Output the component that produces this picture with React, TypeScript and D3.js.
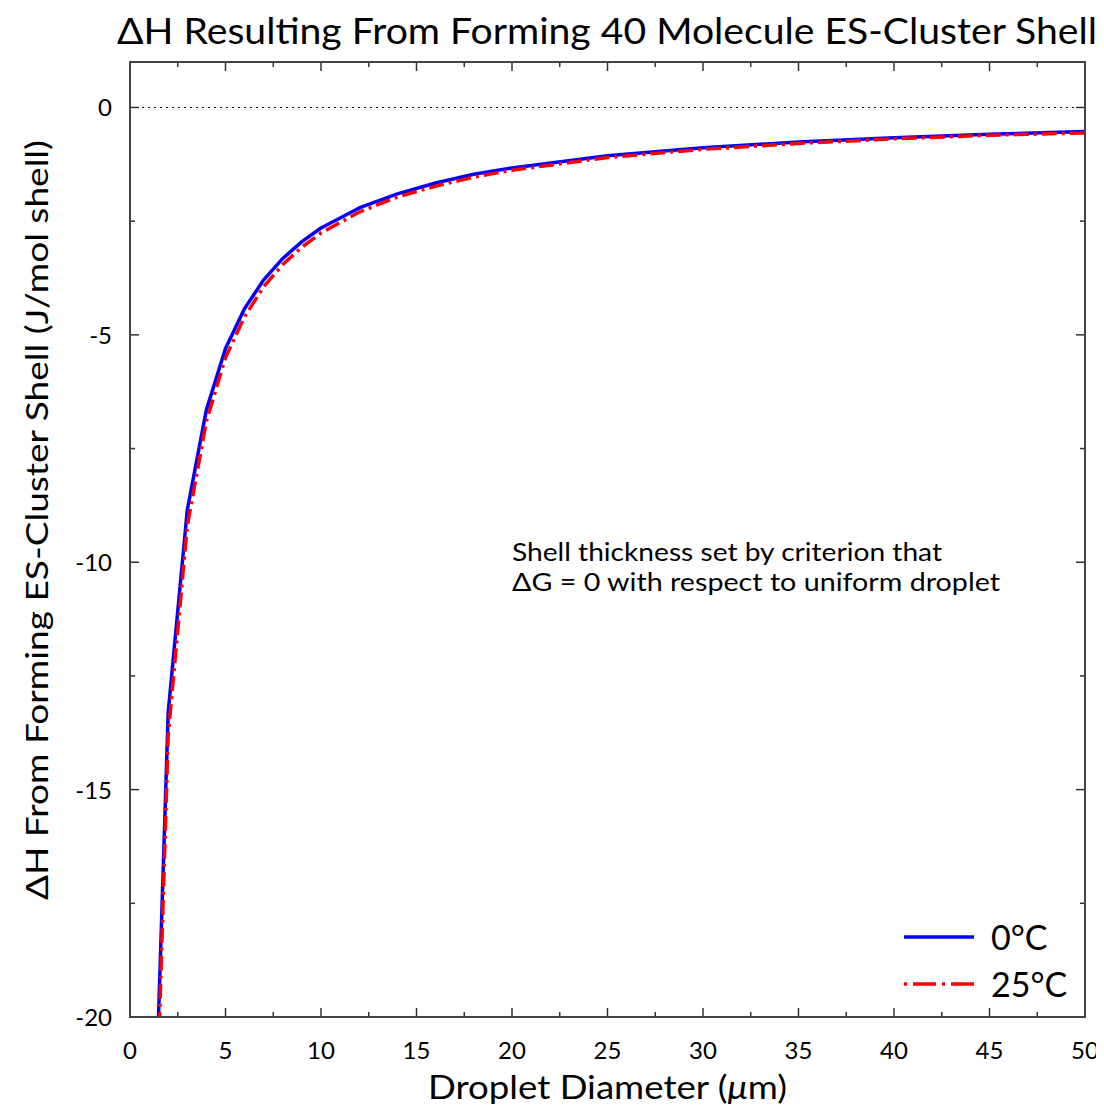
import { useEffect, useRef } from "react";
import * as d3 from "d3";

// droplet diameters (um) where the curves are sampled
const diameters = [1, 2, 3, 4, 5, 6, 7, 8, 9, 10, 12, 14, 16, 18, 20, 25, 30, 35, 40, 45, 50];
// dH at 0 C
const dH0 = [-26.5, -13.3, -8.85, -6.65, -5.3, -4.42, -3.79, -3.32, -2.95, -2.65, -2.21, -1.9, -1.66, -1.47, -1.33, -1.06, -0.885, -0.76, -0.665, -0.59, -0.53];
// dH at 25 C
const dH25 = [-27.6, -13.8, -9.2, -6.9, -5.5, -4.6, -3.94, -3.45, -3.07, -2.76, -2.3, -1.97, -1.73, -1.53, -1.38, -1.1, -0.92, -0.79, -0.69, -0.61, -0.56];

const xTicks = [0, 5, 10, 15, 20, 25, 30, 35, 40, 45, 50];
const yTicks = [0, -5, -10, -15, -20];

const seriesNames = ["0°C", "25°C"];

function App() {
  const svgRef = useRef<SVGSVGElement | null>(null);

  useEffect(() => {
    const svg = d3.select(svgRef.current);
    svg.selectAll("*").remove();

    const W = 1104;
    const H = 1112;
    const margin = { top: 62, right: 19, bottom: 95, left: 130 };
    const left = margin.left;
    const right = W - margin.right;
    const top = margin.top;
    const bottom = H - margin.bottom;

    const font = "Lato, 'Open Sans', sans-serif";

    const x = d3.scaleLinear().domain([0, 50]).range([left, right]);
    const y = d3.scaleLinear().domain([-20, 1]).range([bottom, top]);

    svg.append("rect").attr("width", W).attr("height", H).attr("fill", "#fff");

    // clip for the curves
    svg.append("defs").append("clipPath").attr("id", "plotClip")
      .append("rect").attr("x", left).attr("y", top)
      .attr("width", right - left).attr("height", bottom - top);

    // dotted zero line
    svg.append("line")
      .attr("x1", left).attr("x2", right)
      .attr("y1", y(0)).attr("y2", y(0))
      .attr("stroke", "#000").attr("stroke-width", 1.2)
      .attr("stroke-dasharray", "2,4");

    // ticks on all four sides (inward), major and minor
    const ticks = svg.append("g").attr("stroke", "#333").attr("stroke-width", 1.5);
    const xMinor = d3.range(2.5, 50, 5);
    const yMinor = d3.range(-17.5, 1, 5);
    xTicks.forEach((t) => {
      ticks.append("line").attr("x1", x(t)).attr("x2", x(t)).attr("y1", bottom).attr("y2", bottom - 9);
      ticks.append("line").attr("x1", x(t)).attr("x2", x(t)).attr("y1", top).attr("y2", top + 9);
    });
    xMinor.forEach((t) => {
      ticks.append("line").attr("x1", x(t)).attr("x2", x(t)).attr("y1", bottom).attr("y2", bottom - 5);
      ticks.append("line").attr("x1", x(t)).attr("x2", x(t)).attr("y1", top).attr("y2", top + 5);
    });
    yTicks.forEach((t) => {
      ticks.append("line").attr("x1", left).attr("x2", left + 9).attr("y1", y(t)).attr("y2", y(t));
      ticks.append("line").attr("x1", right).attr("x2", right - 9).attr("y1", y(t)).attr("y2", y(t));
    });
    yMinor.forEach((t) => {
      ticks.append("line").attr("x1", left).attr("x2", left + 5).attr("y1", y(t)).attr("y2", y(t));
      ticks.append("line").attr("x1", right).attr("x2", right - 5).attr("y1", y(t)).attr("y2", y(t));
    });

    // curves
    const line = d3.line<number>()
      .x((_, i) => x(diameters[i]))
      .y((d) => y(d));

    const curves = svg.append("g").attr("clip-path", "url(#plotClip)");
    curves.append("path").datum(dH0)
      .attr("d", line).attr("fill", "none")
      .attr("stroke", "#0000ff").attr("stroke-width", 3.5)
      .attr("stroke-linejoin", "round");
    curves.append("path").datum(dH25)
      .attr("d", line).attr("fill", "none")
      .attr("stroke", "#ff0000").attr("stroke-width", 3.5)
      .attr("stroke-dasharray", "15,5,3,5");

    // frame
    svg.append("rect")
      .attr("x", left).attr("y", top)
      .attr("width", right - left).attr("height", bottom - top)
      .attr("fill", "none").attr("stroke", "#444").attr("stroke-width", 2);

    // tick labels
    svg.append("g").selectAll("text").data(xTicks).join("text")
      .attr("x", (d) => x(d)).attr("y", bottom + 42)
      .attr("text-anchor", "middle")
      .attr("font-family", font).attr("font-size", 24)
      .text((d) => d);
    svg.append("g").selectAll("text").data(yTicks).join("text")
      .attr("x", left - 18).attr("y", (d) => y(d) + 9)
      .attr("text-anchor", "end")
      .attr("font-family", font).attr("font-size", 24)
      .text((d) => d);

    // title
    svg.append("text")
      .attr("x", 117).attr("y", 44)
      .attr("font-family", font).attr("font-size", 37)
      .attr("textLength", 980).attr("lengthAdjust", "spacingAndGlyphs")
      .text("ΔH Resulting From Forming 40 Molecule ES-Cluster Shell");

    // axis labels
    const xl = svg.append("text")
      .attr("x", 428).attr("y", 1099)
      .attr("font-family", font).attr("font-size", 32)
      .attr("textLength", 359).attr("lengthAdjust", "spacingAndGlyphs");
    xl.append("tspan").text("Droplet Diameter (");
    xl.append("tspan").attr("font-style", "italic").text("μ");
    xl.append("tspan").text("m)");

    svg.append("text")
      .attr("transform", `translate(48, 520) rotate(-90)`)
      .attr("text-anchor", "middle")
      .attr("font-family", font).attr("font-size", 31)
      .attr("textLength", 760).attr("lengthAdjust", "spacingAndGlyphs")
      .text("ΔH From Forming ES-Cluster Shell (J/mol shell)");

    // annotation
    const note = svg.append("g")
      .attr("font-family", font).attr("font-size", 25);
    note.append("text").attr("x", 512).attr("y", 561)
      .attr("textLength", 430).attr("lengthAdjust", "spacingAndGlyphs")
      .text("Shell thickness set by criterion that");
    note.append("text").attr("x", 512).attr("y", 591)
      .attr("textLength", 488).attr("lengthAdjust", "spacingAndGlyphs")
      .text("ΔG = 0 with respect to uniform droplet");

    // legend
    const legend = svg.append("g");
    const rows = [
      { name: seriesNames[0], color: "#0000ff", dash: null, yy: 937 },
      { name: seriesNames[1], color: "#ff0000", dash: "3,6,23,6", yy: 984 },
    ];
    rows.forEach((r) => {
      const l = legend.append("line")
        .attr("x1", 904).attr("x2", 974)
        .attr("y1", r.yy).attr("y2", r.yy)
        .attr("stroke", r.color).attr("stroke-width", 3.5);
      if (r.dash) l.attr("stroke-dasharray", r.dash);
      legend.append("text")
        .attr("x", 991).attr("y", r.yy + 13)
        .attr("font-family", font).attr("font-size", 34)
        .text(r.name);
    });
  }, []);

  return <svg ref={svgRef} width={1104} height={1112} style={{ display: "block", margin: -8 }} />;
}

export default App;
